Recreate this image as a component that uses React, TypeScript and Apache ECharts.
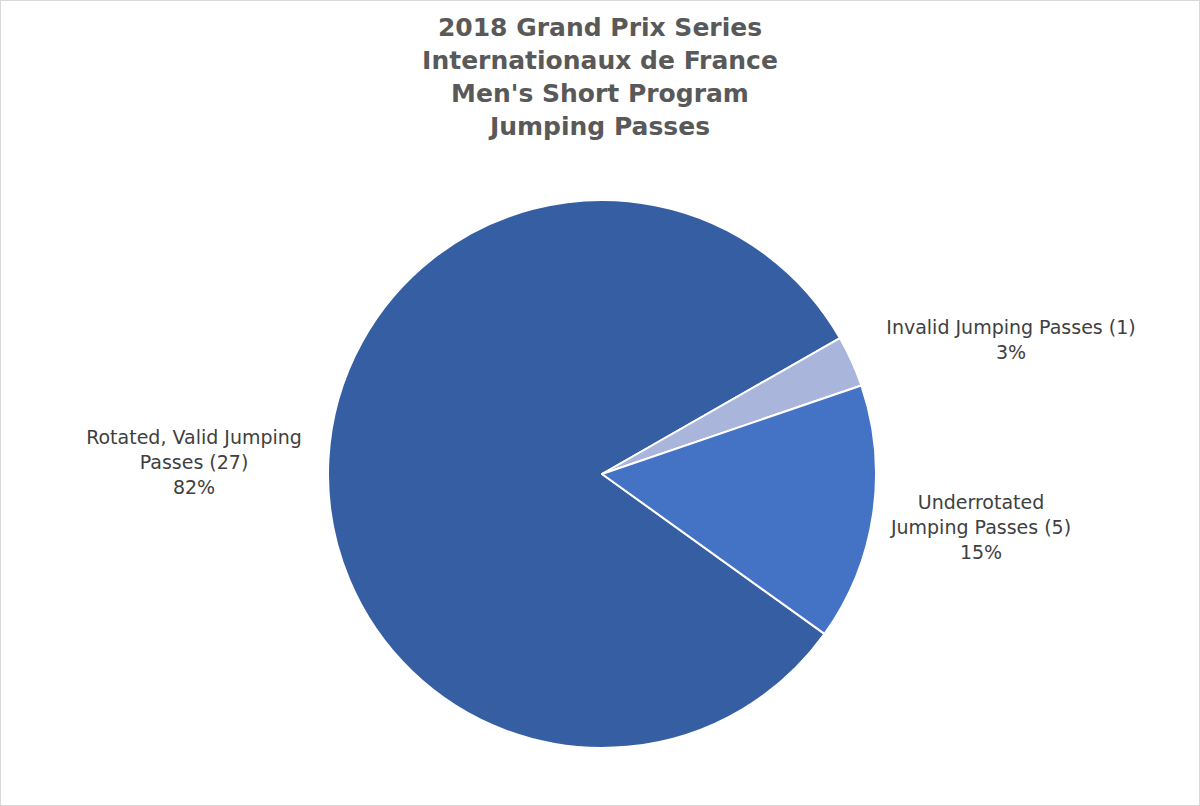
import { useEffect, useRef } from "react";
import * as echarts from "echarts";

const titleLines = [
  "2018 Grand Prix Series",
  "Internationaux de France",
  "Men's Short Program",
  "Jumping Passes",
];

const categories = [
  "Rotated, Valid Jumping\nPasses",
  "Invalid Jumping Passes",
  "Underrotated\nJumping Passes",
];
const counts = [27, 1, 5];
const percents = ["82%", "3%", "15%"];

const sliceColors = ["#365FA3", "#A9B5DA", "#4472C4"];
// where each label block is centred
const labelSpots = [
  [193, 461],
  [1010, 338],
  [980, 526],
];

export default function App() {
  const chartRef = useRef<HTMLDivElement>(null);

  useEffect(() => {
    if (!chartRef.current) return;
    const chart = echarts.init(chartRef.current, undefined, { renderer: "svg" });

    chart.setOption({
      animation: false,
      backgroundColor: "#ffffff",
      title: {
        text: titleLines.join("\n"),
        left: "center",
        top: 5,
        textStyle: {
          fontFamily: "DejaVu Sans",
          fontWeight: "bold",
          fontSize: 25,
          lineHeight: 33,
          color: "#595959",
        },
      },
      series: [
        {
          type: "pie",
          center: [601, 473],
          radius: 274,
          startAngle: -35.7,
          clockwise: true,
          itemStyle: { borderColor: "#ffffff", borderWidth: 2 },
          label: {
            show: true,
            position: "outside",
            fontFamily: "DejaVu Sans",
            fontSize: 19,
            lineHeight: 25,
            color: "#404040",
            align: "center",
            formatter: (p: any) =>
              `${p.name} (${p.value})\n${percents[p.dataIndex]}`,
          },
          labelLine: { show: false },
          labelLayout: (p: any) => ({
            x: labelSpots[p.dataIndex][0],
            y: labelSpots[p.dataIndex][1],
            align: "center",
            verticalAlign: "middle",
          }),
          data: categories.map((name, i) => ({
            name,
            value: counts[i],
            itemStyle: { color: sliceColors[i] },
          })),
        },
      ],
    });

    return () => chart.dispose();
  }, []);

  return (
    <div
      style={{
        position: "absolute",
        left: 0,
        top: 0,
        width: 1200,
        height: 806,
        boxSizing: "border-box",
        border: "1px solid #d9d9d9",
        background: "#ffffff",
      }}
    >
      <div ref={chartRef} style={{ width: "100%", height: "100%" }} />
    </div>
  );
}
